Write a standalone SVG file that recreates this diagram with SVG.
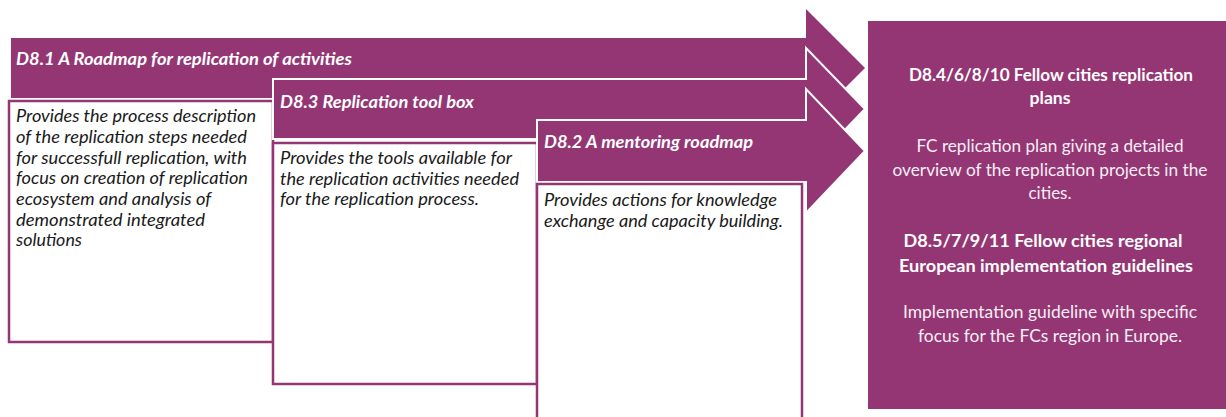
<svg xmlns="http://www.w3.org/2000/svg" width="1226" height="417" viewBox="0 0 1226 417">
<style>
.arrow{fill:#943673}
.arrow2{fill:#943673;stroke:#ffffff;stroke-width:2}
.box{fill:#ffffff;stroke:#943673;stroke-width:2.5}
.title{font-family:Lato,"Liberation Sans",sans-serif;font-size:16.5px;font-weight:bold;font-style:italic;fill:#ffffff}
.body{font-family:Lato,"Liberation Sans",sans-serif;font-size:16.5px;font-style:italic;fill:#1a1a1a}
.rb{font-family:Lato,"Liberation Sans",sans-serif;font-size:16.5px;font-weight:bold;fill:#ffffff;text-anchor:middle}
.rt{font-family:Lato,"Liberation Sans",sans-serif;font-size:16.5px;fill:#f8eef5;text-anchor:middle}
</style>
<rect width="1226" height="417" fill="#ffffff"/>
<g id="connectors">
<path id="arrow-d81" class="arrow" d="M11,38 H806 V9 L865,68 L806,127 V98 H11 Z"/>
</g>
<g id="node-d81">
<rect class="box" x="9" y="101" width="264" height="241"/>
<text class="title" x="16" y="65" textLength="336" lengthAdjust="spacingAndGlyphs">D8.1 A Roadmap for replication of activities</text>
<text class="body" x="16" y="122" textLength="240" lengthAdjust="spacingAndGlyphs">Provides the process description</text>
<text class="body" x="16" y="143" textLength="231" lengthAdjust="spacingAndGlyphs">of the replication steps needed</text>
<text class="body" x="16" y="163.5" textLength="231" lengthAdjust="spacingAndGlyphs">for successfull replication, with</text>
<text class="body" x="16" y="184" textLength="232" lengthAdjust="spacingAndGlyphs">focus on creation of replication</text>
<text class="body" x="16" y="205" textLength="195" lengthAdjust="spacingAndGlyphs">ecosystem and analysis of</text>
<text class="body" x="16" y="225.5" textLength="189" lengthAdjust="spacingAndGlyphs">demonstrated integrated</text>
<text class="body" x="16" y="246" textLength="66" lengthAdjust="spacingAndGlyphs">solutions</text>
</g>
<g id="node-d83">
<path class="arrow2" d="M273,79 H806 V48 L865,109 L806,170 V139 H273 Z"/>
<rect class="box" x="273" y="143" width="264" height="241"/>
<text class="title" x="280" y="108" textLength="194" lengthAdjust="spacingAndGlyphs">D8.3 Replication tool box</text>
<text class="body" x="280" y="164" textLength="232" lengthAdjust="spacingAndGlyphs">Provides the tools available for</text>
<text class="body" x="280" y="185" textLength="239" lengthAdjust="spacingAndGlyphs">the replication activities needed</text>
<text class="body" x="280" y="205" textLength="199" lengthAdjust="spacingAndGlyphs">for the replication process.</text>
</g>
<g id="node-d82">
<path class="arrow2" d="M537,120 H806 V89 L865,151 L806,213 V182 H537 Z"/>
<rect class="box" x="537" y="184" width="265" height="240"/>
<text class="title" x="544" y="148" textLength="209" lengthAdjust="spacingAndGlyphs">D8.2 A mentoring roadmap</text>
<text class="body" x="544" y="206" textLength="233" lengthAdjust="spacingAndGlyphs">Provides actions for knowledge</text>
<text class="body" x="544" y="226.5" textLength="239" lengthAdjust="spacingAndGlyphs">exchange and capacity building.</text>
</g>
<g id="node-fellow-cities">
<rect x="868" y="21" width="364" height="388" fill="#943673"/>
<text class="rb" x="1051" y="81" textLength="284" lengthAdjust="spacingAndGlyphs">D8.4/6/8/10 Fellow cities replication</text>
<text class="rb" x="1050" y="104" textLength="41" lengthAdjust="spacingAndGlyphs">plans</text>
<text class="rt" x="1050" y="152" textLength="267" lengthAdjust="spacingAndGlyphs">FC replication plan giving a detailed</text>
<text class="rt" x="1050" y="175.5" textLength="315" lengthAdjust="spacingAndGlyphs">overview of the replication projects in the</text>
<text class="rt" x="1050" y="199" textLength="43" lengthAdjust="spacingAndGlyphs">cities.</text>
<text class="rb" x="1043" y="247" textLength="279" lengthAdjust="spacingAndGlyphs">D8.5/7/9/11 Fellow cities regional</text>
<text class="rb" x="1046" y="271.5" textLength="294" lengthAdjust="spacingAndGlyphs">European implementation guidelines</text>
<text class="rt" x="1050" y="318" textLength="294" lengthAdjust="spacingAndGlyphs">Implementation guideline with specific</text>
<text class="rt" x="1050" y="342" textLength="264" lengthAdjust="spacingAndGlyphs">focus for the FCs region in Europe.</text>
</g>
</svg>
